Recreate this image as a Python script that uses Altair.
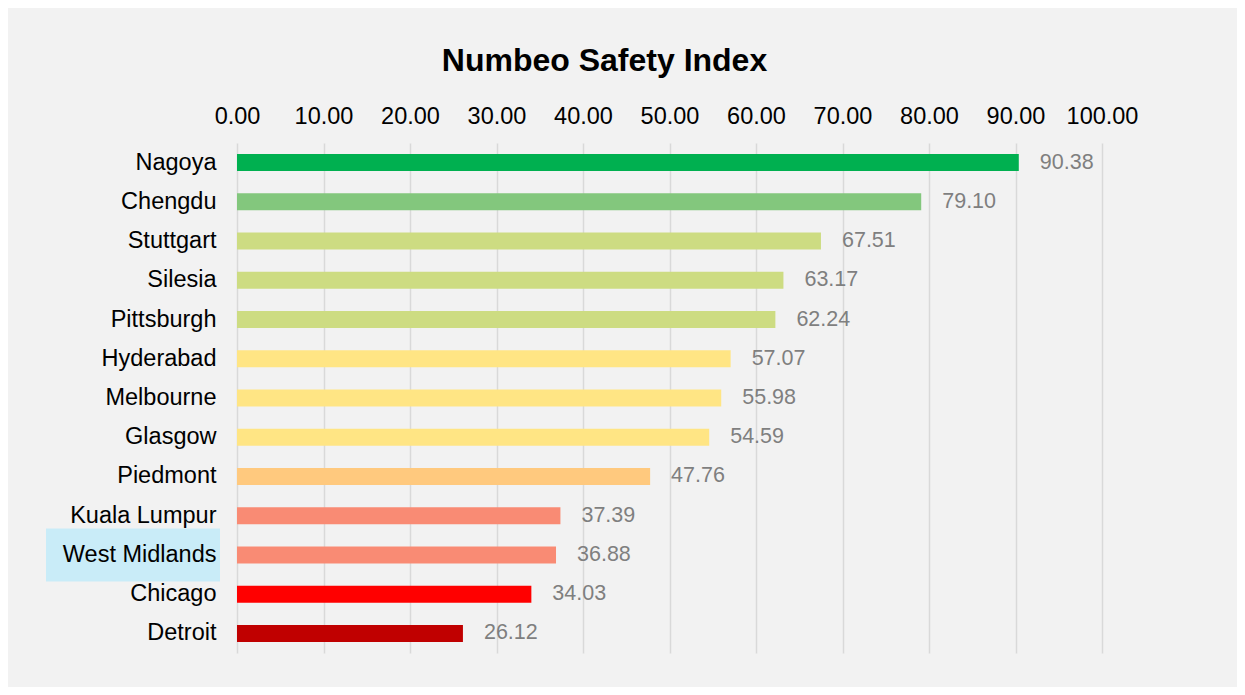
import altair as alt
import pandas as pd

cities = ["Nagoya", "Chengdu", "Stuttgart", "Silesia", "Pittsburgh", "Hyderabad",
          "Melbourne", "Glasgow", "Piedmont", "Kuala Lumpur", "West Midlands",
          "Chicago", "Detroit"]
values = [90.38, 79.10, 67.51, 63.17, 62.24, 57.07, 55.98, 54.59, 47.76,
          37.39, 36.88, 34.03, 26.12]
colors = ["#00B050", "#83C77D", "#CDDC82", "#CDDC82", "#CDDC82", "#FFE584",
          "#FFE584", "#FFE584", "#FFC97E", "#F98B74", "#F98B74", "#FF0000", "#C00000"]
highlight = ["West Midlands"]
ticks = [0, 10, 20, 30, 40, 50, 60, 70, 80, 90, 100]

df = pd.DataFrame({"city": cities, "value": values, "color": colors})
hl = pd.DataFrame({"city": highlight})

FONT = "Liberation Sans"

y_enc = alt.Y("city:N", sort=cities, title=None,
              scale=alt.Scale(paddingInner=0, paddingOuter=0),
              axis=alt.Axis(zindex=2, labelPadding=21, ticks=False, domain=False,
                            grid=False))

hl_layer = alt.Chart(hl).mark_bar(size=53, color="#C9ECF8").encode(
    y=y_enc,
    x=alt.value(-191),
    x2=alt.value(-17),
)

bars = alt.Chart(df).mark_bar(size=17).encode(
    y=y_enc,
    x=alt.X("value:Q", title=None,
            scale=alt.Scale(domain=[0, 100], nice=False),
            axis=alt.Axis(orient="top", format=".2f", values=ticks,
                          labelOverlap=False, labelFlush=False, labelPadding=15,
                          grid=True, gridColor="#D9D9D9", gridWidth=1.5,
                          ticks=False, domain=False)),
    color=alt.Color("color:N", scale=None),
)

labels = alt.Chart(df).mark_text(
    align="left", baseline="middle", dx=21, fontSize=21.5, color="#7F7F7F", font=FONT
).encode(
    y=y_enc,
    x="value:Q",
    text=alt.Text("value:Q", format=".2f"),
)

chart = alt.layer(hl_layer, bars, labels).properties(
    width=865,
    height=510,
    title=alt.TitleParams("Numbeo Safety Index", anchor="middle", frame="group",
                          dx=-65, fontSize=32, fontWeight="bold", font=FONT,
                          color="#000000", offset=26),
    background="#F2F2F2",
    autosize=alt.AutoSizeParams(type="none"),
    padding={"left": 229, "top": 135, "right": 135, "bottom": 34},
).configure_view(stroke=None).configure_axis(
    labelFont=FONT, labelColor="#000000", labelFontSize=23.5,
)

chart.save("out.html", embed_options={"renderer": "svg", "actions": False})
